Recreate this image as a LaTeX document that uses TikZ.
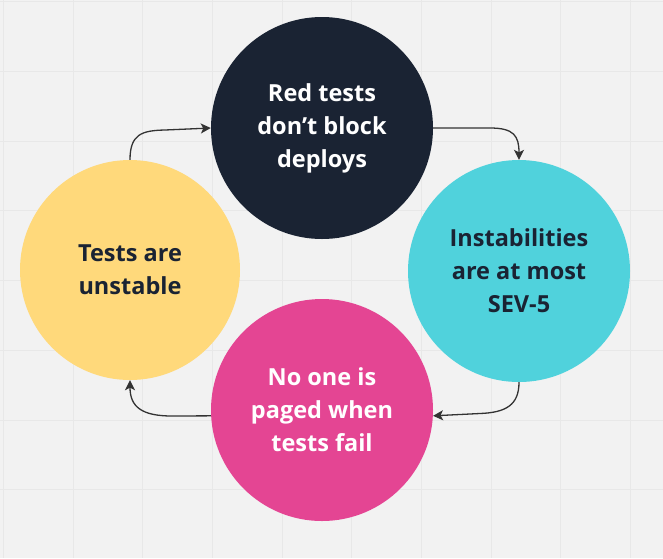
\documentclass[tikz,border=0pt]{standalone}
\usepackage{fontspec}
\setmainfont{Open Sans}
\usetikzlibrary{arrows.meta}
\definecolor{bgc}{HTML}{F2F2F2}
\definecolor{gridc}{HTML}{E8E8E8}
\definecolor{navy}{HTML}{1A2333}
\definecolor{cyanc}{HTML}{50D2DC}
\definecolor{pinkc}{HTML}{E44593}
\definecolor{yellowc}{HTML}{FFD97B}
\definecolor{arrowc}{HTML}{333333}
\tikzset{
  blob/.style={circle, minimum size=222pt, inner sep=0pt, align=center,
    font=\bfseries\fontsize{23.5}{33}\selectfont},
  link/.style={draw=arrowc, line width=1.3pt,
    -{Stealth[length=10pt,width=10pt,inset=2.5pt]}}
}
\begin{document}
\begin{tikzpicture}[x=1pt,y=-1pt]
\useasboundingbox (0,0) rectangle (663,558);
\fill[bgc] (0,0) rectangle (663,558);
\foreach \i in {0,...,9} {
  \draw[gridc, line width=1pt] ({3.3+69.7*\i},0) -- ({3.3+69.7*\i},558);
  \draw[gridc, line width=1pt] (0,{1.8+69.7*\i}) -- (663,{1.8+69.7*\i});
}
\node[blob, fill=navy, text=white] (red) at (322,128) {Red tests\\don’t block\\deploys};
\node[blob, fill=cyanc, text=navy] (inst) at (519,271) {Instabilities\\are at most\\SEV-5};
\node[blob, fill=pinkc, text=white] (page) at (322,410) {No one is\\paged when\\tests fail};
\node[blob, fill=yellowc, text=navy, minimum size=220pt] (unst) at (130,270) {Tests are\\unstable};
\draw[link] (unst.north) .. controls (130,134) and (142,130.5) .. (165,130) -- (red.180);
\draw[link] (red.-0.5) -- (490,128) .. controls (514,128) and (519,136) .. (inst.north);
\draw[link] (inst.south) .. controls (519,405) and (506,412.5) .. (480,413.5) -- (page.-3);
\draw[link] (page.183) -- (172,416) .. controls (142,416) and (130,407) .. (unst.south);
\end{tikzpicture}
\end{document}
